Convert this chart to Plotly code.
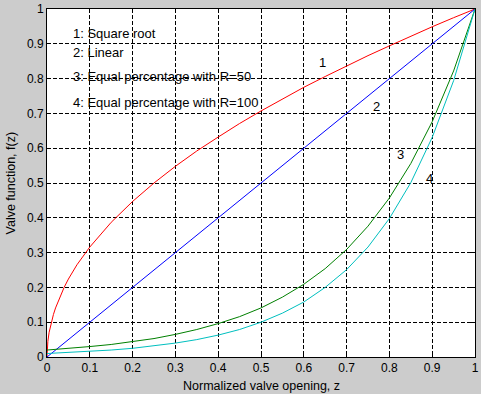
import plotly.graph_objects as go

# z values read along the horizontal axis
z_fine = [0, 0.002, 0.005, 0.01, 0.015, 0.02, 0.03, 0.04, 0.05, 0.07, 0.1, 0.15, 0.2, 0.25, 0.3,
          0.35, 0.4, 0.45, 0.5, 0.55, 0.6, 0.65, 0.7, 0.75, 0.8, 0.85, 0.9, 0.95, 1.0]
sqrt_vals = [0, 0.045, 0.071, 0.10, 0.122, 0.141, 0.173, 0.20, 0.224, 0.265, 0.316, 0.387, 0.447,
             0.50, 0.548, 0.592, 0.632, 0.671, 0.707, 0.742, 0.775, 0.806, 0.837, 0.866, 0.894,
             0.922, 0.949, 0.975, 1.0]

z = [0, 0.05, 0.1, 0.15, 0.2, 0.25, 0.3, 0.35, 0.4, 0.45, 0.5, 0.55, 0.6, 0.65, 0.7,
     0.75, 0.8, 0.85, 0.9, 0.95, 1.0]
linear_vals = [0, 0.05, 0.1, 0.15, 0.2, 0.25, 0.3, 0.35, 0.4, 0.45, 0.5, 0.55, 0.6, 0.65, 0.7,
               0.75, 0.8, 0.85, 0.9, 0.95, 1.0]
eq50_vals = [0.020, 0.024, 0.030, 0.036, 0.044, 0.053, 0.065, 0.079, 0.096, 0.116, 0.141,
             0.172, 0.209, 0.254, 0.309, 0.376, 0.457, 0.556, 0.676, 0.822, 1.0]
eq100_vals = [0.010, 0.013, 0.016, 0.020, 0.025, 0.032, 0.040, 0.050, 0.063, 0.079, 0.100,
              0.126, 0.158, 0.200, 0.251, 0.316, 0.398, 0.501, 0.631, 0.794, 1.0]

ticks = [0, 0.1, 0.2, 0.3, 0.4, 0.5, 0.6, 0.7, 0.8, 0.9, 1]
tick_text = ["0", "0.1", "0.2", "0.3", "0.4", "0.5", "0.6", "0.7", "0.8", "0.9", "1"]

legend_lines = ["1: Square root", "2: Linear", "3: Equal percentage with R=50",
                "4: Equal percentage with R=100"]
legend_y = [0.931, 0.874, 0.805, 0.730]
curve_labels = ["1", "2", "3", "4"]
curve_label_x = [0.643, 0.769, 0.827, 0.893]
curve_label_y = [0.845, 0.721, 0.583, 0.514]

FONT = "Liberation Sans, Arial, sans-serif"

fig = go.Figure()
fig.add_trace(go.Scatter(x=z_fine, y=sqrt_vals, mode="lines", line=dict(color="#ff0000", width=1)))
fig.add_trace(go.Scatter(x=z, y=linear_vals, mode="lines", line=dict(color="#0000ff", width=1)))
fig.add_trace(go.Scatter(x=z, y=eq50_vals, mode="lines", line=dict(color="#008000", width=1)))
fig.add_trace(go.Scatter(x=z, y=eq100_vals, mode="lines", line=dict(color="#00bfbf", width=1)))

for t, yv in zip(legend_lines, legend_y):
    fig.add_annotation(x=0.056, y=yv, text=t, showarrow=False, xanchor="left", yanchor="middle",
                       font=dict(family=FONT, size=13, color="black"))
for t, xv, yv in zip(curve_labels, curve_label_x, curve_label_y):
    fig.add_annotation(x=xv, y=yv, text=t, showarrow=False, xanchor="center", yanchor="middle",
                       font=dict(family=FONT, size=13, color="black"))

fig.add_annotation(xref="paper", yref="paper", x=0.5, y=-0.083, text="Normalized valve opening, z",
                   showarrow=False, xanchor="center", yanchor="middle",
                   font=dict(family=FONT, size=12.5, color="black"))
fig.add_annotation(xref="paper", yref="paper", x=-0.083, y=0.5, text="Valve function, f(z)",
                   textangle=-90, showarrow=False, xanchor="center", yanchor="middle",
                   font=dict(family=FONT, size=12.5, color="black"))

axis_common = dict(
    range=[0, 1], tickvals=ticks, ticktext=tick_text, showgrid=True,
    gridcolor="black", griddash="4px,2px", gridwidth=1,
    showline=True, linecolor="black", linewidth=1, mirror="ticks",
    ticks="inside", ticklen=4, tickcolor="black", zeroline=False,
    tickfont=dict(family=FONT, size=12, color="black"),
)

fig.update_layout(
    width=481, height=394,
    margin=dict(l=47, r=6, t=9, b=37, autoexpand=False),
    paper_bgcolor="#cccccc", plot_bgcolor="white",
    showlegend=False,
    xaxis=axis_common,
    yaxis=axis_common,
)

fig.write_html("out.html", config={"displayModeBar": False},
               post_script="document.body.style.margin='0';document.body.style.background='#cccccc';")
